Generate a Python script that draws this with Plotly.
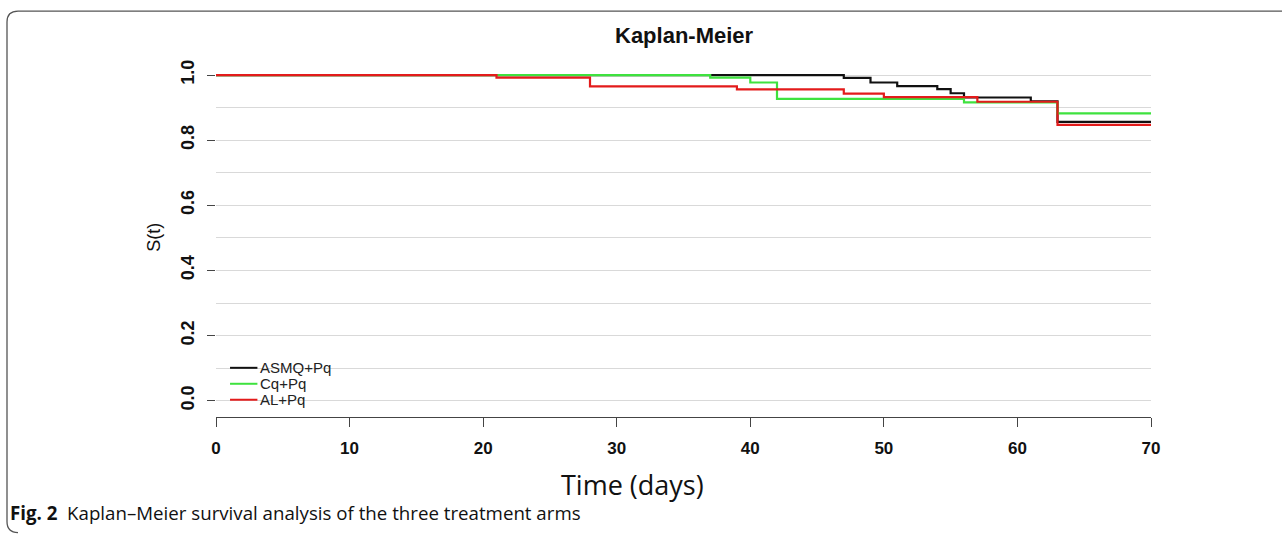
import plotly.graph_objects as go

# ---- data ----
series_names = ["ASMQ+Pq", "Cq+Pq", "AL+Pq"]
asmq_t = [0, 47, 49, 51, 54, 55, 56, 61, 63, 70]
asmq_s = [1.0, 0.991, 0.977, 0.966, 0.957, 0.944, 0.931, 0.919, 0.856, 0.856]
cq_t = [0, 37, 40, 42, 56, 63, 70]
cq_s = [1.0, 0.992, 0.977, 0.927, 0.916, 0.882, 0.882]
al_t = [0, 21, 28, 39, 47, 50, 57, 63, 70]
al_s = [1.0, 0.992, 0.965, 0.956, 0.943, 0.932, 0.918, 0.847, 0.847]
x_ticks = [0, 10, 20, 30, 40, 50, 60, 70]
y_ticks = [0.0, 0.2, 0.4, 0.6, 0.8, 1.0]
y_tick_labels = ["0.0", "0.2", "0.4", "0.6", "0.8", "1.0"]

colors = ["#111111", "#3ee23e", "#e31b1b"]

W, H = 1282, 534
L, R = 216, 1282 - 1151
T = 62
YR = [-0.05, 1.04]
plot_h = (YR[1] - YR[0]) * 326
B = H - T - plot_h
plot_w = W - L - R

def px2paper_x(px):
    return (px - L) / plot_w

def py2paper_y(py):
    return (H - B - py) / plot_h

fig = go.Figure()
for name, t, s, c in zip(series_names, [asmq_t, cq_t, al_t], [asmq_s, cq_s, al_s], colors):
    fig.add_trace(go.Scatter(x=t, y=s, mode="lines", name=name,
                             line=dict(color=c, width=2.2, shape="hv"),
                             showlegend=False))

# manual legend (R-style, in data coordinates)
leg_y = [0.101, 0.052, 0.003]
for name, c, ly in zip(series_names, colors, leg_y):
    fig.add_shape(type="line", x0=1.05, x1=3.1, y0=ly, y1=ly,
                  line=dict(color=c, width=2), xref="x", yref="y")
    fig.add_annotation(x=3.12, y=ly, text=name, showarrow=False, xanchor="left",
                       yanchor="middle", font=dict(family="Liberation Sans, Arial", size=15, color="#222"))

# border (rounded top-left)
def P(px, py):
    return f"{px2paper_x(px):.5f},{py2paper_y(py):.5f}"
path = (f"M {P(18,533)} Q {P(7,533)} {P(7,522)} L {P(7,22)} Q {P(7,11)} {P(18,11)} L {P(1290,11)}")
fig.add_shape(type="path", path=path, xref="paper", yref="paper",
              line=dict(color="#555", width=1.3), layer="above")

def ann(text, px, py, size, family, angle=0, xanchor="center"):
    fig.add_annotation(text=text, x=px2paper_x(px), y=py2paper_y(py), textangle=angle,
                       xref="paper", yref="paper", showarrow=False,
                       xanchor=xanchor, yanchor="middle",
                       font=dict(family=family, size=size, color="#111"))

ann("<b>Kaplan-Meier</b>", 684, 35, 22, "Liberation Sans, Arial")
ann("S(t)", 154, 238, 18, "Liberation Sans, Arial", angle=-90)
ann("Time (days)", 632, 485, 27, "Open Sans, Noto Sans")
ann("<b>Fig. 2</b>  Kaplan–Meier survival analysis of the three treatment arms",
    8, 513, 18.7, "Open Sans, Noto Sans", xanchor="left")

fig.update_layout(
    width=W, height=H,
    margin=dict(l=L, r=R, t=T, b=B, pad=0),
    paper_bgcolor="white", plot_bgcolor="white",
    showlegend=False,
    xaxis=dict(range=[0, 70], tickvals=x_ticks, ticktext=[f"<b>{v}</b>" for v in x_ticks],
               showgrid=False, zeroline=False, showline=True, linecolor="#444", linewidth=1.2,
               ticks="outside", ticklen=9, tickcolor="#444", tickwidth=1.2,
               ticklabelstandoff=6,
               tickfont=dict(family="Liberation Sans, Arial", size=17, color="#111")),
    yaxis=dict(range=YR, tickvals=y_ticks, ticktext=[f"<b>{v}</b>" for v in y_tick_labels],
               tickangle=-90,
               showgrid=True, gridcolor="#d9d9d9", gridwidth=1, zeroline=False, showline=False,
               minor=dict(dtick=0.1, tick0=0, showgrid=True, gridcolor="#d9d9d9", gridwidth=1),
               ticks="outside", ticklen=8, tickcolor="#444", tickwidth=1.2,
               ticklabelstandoff=6,
               tickfont=dict(family="Liberation Sans, Arial", size=18, color="#111")),
)
fig.write_html("out.html", config={"displayModeBar": False},
               post_script="document.body.style.margin='0px';")
